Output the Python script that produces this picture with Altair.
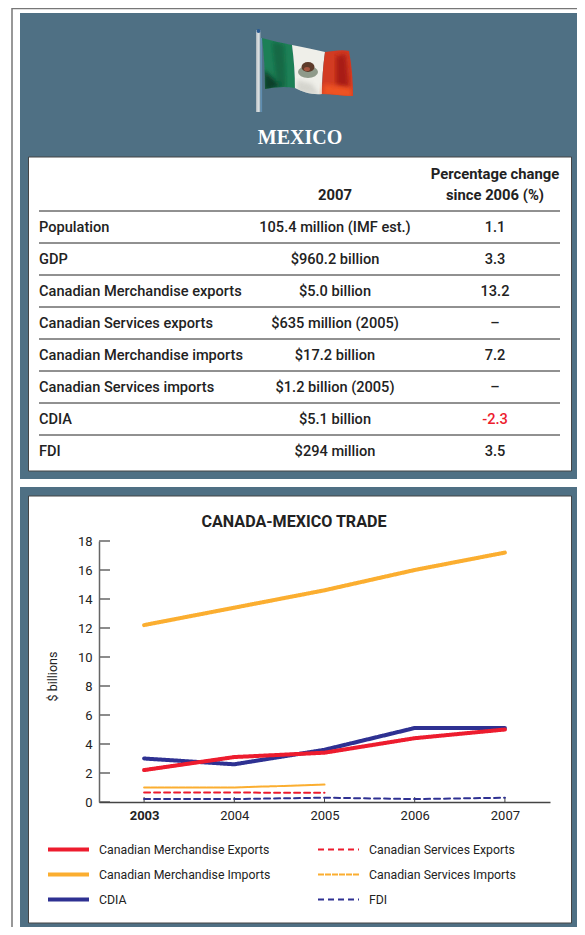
import altair as alt
import pandas as pd
import urllib.parse

# ---------- data ----------
YEARS = [2003, 2004, 2005, 2006, 2007]
MERCH_EXPORTS = [2.2, 3.1, 3.4, 4.4, 5.0]
MERCH_IMPORTS = [12.2, 13.4, 14.6, 16.0, 17.2]
CDIA = [3.0, 2.6, 3.6, 5.1, 5.1]
SERV_EXPORTS = [0.65, 0.65, 0.635]
SERV_IMPORTS = [1.0, 1.0, 1.2]
FDI = [0.2, 0.2, 0.3, 0.2, 0.294]
Y_TICKS = list(range(0, 19, 2))

ROW_LABELS = ["Population", "GDP", "Canadian Merchandise exports", "Canadian Services exports",
              "Canadian Merchandise imports", "Canadian Services imports", "CDIA", "FDI"]
ROW_2007 = ["105.4 million (IMF est.)", "$960.2 billion", "$5.0 billion", "$635 million (2005)",
            "$17.2 billion", "$1.2 billion (2005)", "$5.1 billion", "$294 million"]
ROW_CHANGE = ["1.1", "3.3", "13.2", "–", "7.2", "–", "-2.3", "3.5"]

SERIES = ["Canadian Merchandise Exports", "Canadian Services Exports",
          "Canadian Merchandise Imports", "Canadian Services Imports", "CDIA", "FDI"]

# ---------- style / layout ----------
TEAL = "#4f7084"
INK = "#222222"
RED = "#ed1c2e"
ORANGE = "#fbae30"
BLUE = "#2e3192"
GREY = "#666666"
SANS = "Roboto"
X0, Y0, W, H = 99, 541, 451, 261   # plot area in page pixels
RIGHT, BOTTOM = 577, 927           # last page pixels that do not enlarge the page


def px(x):
    return alt.value(x - X0)


def py(y):
    return alt.value(y - Y0)


ONE = alt.Data(values=[{"a": 1}])


def box(x1, y1, x2, y2, fill, **kw):
    return alt.Chart(ONE).mark_rect(fill=fill, **kw).encode(x=px(x1), x2=px(x2), y=py(y1), y2=py(y2))


def label(txt, x, y, size=14.6, weight="normal", color=INK, font=SANS, align="center"):
    return alt.Chart(ONE).mark_text(text=txt, fontSize=size, fontWeight=weight, color=color, font=font,
                                    align=align, baseline="middle").encode(x=px(x), y=py(y))


# ---------- flag ----------
flag_svg = """<svg xmlns='http://www.w3.org/2000/svg' width='110' height='90' viewBox='250 25 110 90'>
<defs><filter id='b'><feGaussianBlur stdDeviation='0.7'/></filter>
<filter id='s'><feGaussianBlur stdDeviation='2'/></filter>
<clipPath id='c'><path d='M262 38 C272 41 283 43 292 45 C304 47 315 50 325 52 C333 51 342 49 349 51 C352 66 353 82 353 96 C343 96 332 94 322 94 C312 95 303 92 295 88 C285 86 275 87 265 89 C265 72 264 55 262 38Z'/></clipPath>
<linearGradient id='p' x1='0' x2='1' y1='0' y2='0'><stop offset='0' stop-color='#aab4ba'/><stop offset='.5' stop-color='#dfe3e4'/><stop offset='1' stop-color='#9fb0bb'/></linearGradient>
</defs>
<g filter='url(#b)'>
<rect x='256' y='30' width='4.5' height='82' fill='url(#p)'/>
<rect x='260.5' y='38' width='1.6' height='74' fill='#5f8db0'/>
<circle cx='258.5' cy='31' r='2' fill='#2a5a90'/>
<path d='M262 38 C272 41 283 43 292 45 C294 60 295 75 295 88 C285 86 275 87 265 89 C265 72 264 55 262 38Z' fill='#1f8057'/>
<path d='M292 45 C304 47 315 50 325 52 C323 66 322 80 322 94 C312 95 303 92 295 88 C295 75 294 60 292 45Z' fill='#efefe9'/>
<path d='M325 52 C333 51 342 49 349 51 C352 66 353 82 353 96 C343 96 332 94 322 94 C322 80 323 66 325 52Z' fill='#d23a22'/>
<g clip-path='url(#c)'>
<path d='M264 70 L282 86 L264 92Z' fill='#08402a' filter='url(#s)'/>
<path d='M272 42 L284 44 L286 88 L277 88Z' fill='#0f5e3c' opacity='.7' filter='url(#s)'/>
<path d='M297 80 L312 84 L320 96 L297 92Z' fill='#c9c9c2' opacity='.7' filter='url(#s)'/>
<path d='M336 56 L346 54 L349 88 L336 86Z' fill='#a81f16' filter='url(#s)'/>
<path d='M324 84 L352 88 L352 98 L322 96Z' fill='#ee5224' filter='url(#s)'/>
</g>
<ellipse cx='308' cy='72' rx='10' ry='6' fill='#8f9a8a'/>
<ellipse cx='308' cy='67' rx='6.5' ry='5' fill='#5d3a2a'/>
<ellipse cx='307' cy='69' rx='3' ry='2' fill='#a4563f'/>
</g></svg>"""
flag = alt.Chart(ONE).mark_image(
    url="data:image/svg+xml," + urllib.parse.quote(flag_svg),
    width=110, height=90, align="left", baseline="top",
).encode(x=px(250), y=py(25))

# ---------- decoration ----------
rows = pd.DataFrame({"i": range(len(ROW_LABELS)), "name": ROW_LABELS,
                     "y2007": ROW_2007, "change": ROW_CHANGE})
row_y = alt.Y("i:Q", scale=alt.Scale(domain=[0, 7], range=[228 - Y0, 452 - Y0]), axis=None)
sep_y = alt.Y("i:Q", scale=alt.Scale(domain=[0, 7], range=[227 - Y0, 451 - Y0]), axis=None)


def column(field, x, align):
    return alt.Chart(rows).mark_text(fontSize=14.6, fontWeight=500, font=SANS, align=align,
                                     baseline="middle").encode(
        x=px(x), y=row_y, text=f"{field}:N",
        color=alt.condition("toNumber(datum.change) < 0 && '" + field + "' == 'change'",
                            alt.value(RED), alt.value(INK)))


seps = pd.DataFrame({"i": [k - 0.5 for k in range(len(ROW_LABELS))]})
sep_rules = alt.Chart(seps).mark_rule(color="#222222", strokeWidth=1).encode(x=px(39), x2=px(560), y=sep_y)

# ---------- trade chart ----------
records = []
for name, vals in [("Canadian Services Imports", SERV_IMPORTS), ("Canadian Services Exports", SERV_EXPORTS),
                   ("FDI", FDI), ("Canadian Merchandise Imports", MERCH_IMPORTS), ("CDIA", CDIA),
                   ("Canadian Merchandise Exports", MERCH_EXPORTS)]:
    for yr, v in zip(YEARS, vals):
        records.append({"year": yr, "value": v, "series": name})
trade = pd.DataFrame(records)

x_scale = alt.Scale(domain=[2002.5, 2007.5], nice=False, zero=False)
y_scale = alt.Scale(domain=[0, 18], nice=False)

lines = alt.Chart(trade).mark_line(strokeCap="round", strokeJoin="round").encode(
    x=alt.X("year:Q", scale=x_scale, title=None,
            axis=alt.Axis(values=YEARS, format="d", ticks=False, grid=False, labelFont=SANS, labelFontSize=13,
                          labelColor=INK, labelPadding=7, domainColor="#444444", domainWidth=1.5, zindex=1,
                          labelFontWeight={"condition": {"test": "datum.value == 2003", "value": "bold"},
                                           "value": "normal"})),
    y=alt.Y("value:Q", scale=y_scale, title="$ billions",
            axis=alt.Axis(values=Y_TICKS, ticks=False, grid=False, labelFont=SANS, labelFontSize=13,
                          labelColor=INK, labelPadding=7, domainColor=GREY, domainWidth=1.5, zindex=1,
                          titleFont=SANS, titleFontSize=12.5, titleFontWeight="normal", titleColor=INK,
                          titlePadding=18, titleY=135)),
    color=alt.Color("series:N", scale=alt.Scale(domain=SERIES, range=[RED, RED, ORANGE, ORANGE, BLUE, BLUE]),
                    legend=alt.Legend(orient="none", legendX=-53, legendY=296, direction="horizontal", columns=2,
                                      title=None, symbolType="stroke", symbolSize=1681, labelFont=SANS,
                                      labelFontSize=12.3, labelColor=INK, columnPadding=45, rowPadding=0,
                                      clipHeight=25, labelOffset=8, labelLimit=260)),
    strokeDash=alt.StrokeDash("series:N", scale=alt.Scale(domain=SERIES, range=[[1, 0], [6, 4], [1, 0], [6, 1], [1, 0], [6, 4]])),
    strokeWidth=alt.StrokeWidth("series:N", scale=alt.Scale(type="ordinal", domain=SERIES, range=[4, 2, 4, 2, 4, 2])),
    detail="series:N",
)

y_tick_rules = alt.Chart(pd.DataFrame({"t": Y_TICKS})).mark_rule(color=GREY, strokeWidth=1.5).encode(
    x=alt.value(0), x2=alt.value(11), y=alt.Y("t:Q", scale=y_scale, axis=None))
x_tick_rules = alt.Chart(pd.DataFrame({"year": YEARS})).mark_rule(color="#444444", strokeWidth=1).encode(
    x=alt.X("year:Q", scale=x_scale, axis=None), y=alt.value(H - 5), y2=alt.value(H))

chart = alt.layer(
    # outer page frame
    box(12, 8.5, 600, 960, "white", stroke="#777777", strokeWidth=1.5),
    # panels
    box(20, 13, 580, 479, TEAL),
    box(20, 487, 580, 932, TEAL),
    box(28.5, 157, 571.5, 471, "white", stroke="#444444", strokeWidth=1),
    box(28.5, 496, 571.5, 923, "white", stroke="#444444", strokeWidth=1),
    flag,
    label("MEXICO", 300, 138, size=20, weight="bold", color="white", font="Liberation Serif"),
    label("2007", 335, 196, size=14.8, weight="bold"),
    label("Percentage change", 495, 175, size=14.8, weight="bold"),
    label("since 2006 (%)", 495, 196, size=14.8, weight="bold"),
    sep_rules,
    column("name", 39, "left"),
    column("y2007", 335, "center"),
    column("change", 495, "center"),
    label("CANADA-MEXICO TRADE", 294, 522, size=16.1, weight="bold"),
    y_tick_rules,
    x_tick_rules,
    lines,
).resolve_scale(x="independent", y="independent").properties(
    width=W, height=H,
    padding={"left": X0 - 8, "top": Y0 - 8, "right": RIGHT - X0 - W, "bottom": BOTTOM - Y0 - H},
    autosize=alt.AutoSizeParams(type="none"),
    background="white",
).configure_view(stroke=None)

chart.save("out.html", embed_options={"renderer": "svg", "actions": False})
